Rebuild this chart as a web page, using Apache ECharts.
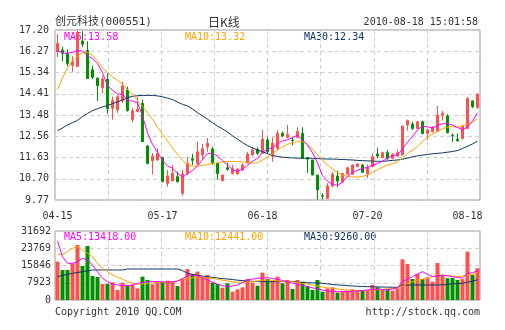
<!DOCTYPE html>
<html><head><meta charset="utf-8">
<script src="https://cdn.jsdelivr.net/npm/echarts@6/dist/echarts.min.js"></script>
<style>html,body{margin:0;padding:0;background:#fff}#c{width:505px;height:330px}</style>
</head><body><div id="c"></div>
<script>
const dates = ['04-15','04-16','04-19','04-20','04-21','04-22','04-23','04-26','04-27','04-28','04-29','04-30',
'05-04','05-05','05-06','05-07','05-10','05-11','05-12','05-13','05-14','05-17','05-18','05-19','05-20','05-21','05-24','05-25','05-26','05-27','05-28',
'06-01','06-02','06-03','06-04','06-07','06-08','06-09','06-10','06-11','06-17','06-18','06-21','06-22','06-23','06-24','06-25','06-28','06-29','06-30',
'07-01','07-02','07-05','07-06','07-07','07-08','07-09','07-12','07-13','07-14','07-15','07-16','07-19','07-20','07-21','07-22','07-23','07-26','07-27','07-28','07-29','07-30',
'08-02','08-03','08-04','08-05','08-06','08-09','08-10','08-11','08-12','08-13','08-16','08-17','08-18'];
const opens = [16.25,16.32,16.18,15.66,15.60,16.72,16.30,15.46,15.10,14.68,15.05,13.78,13.72,14.10,14.58,13.28,13.64,13.99,12.13,11.49,11.52,11.62,10.50,10.62,10.79,10.06,10.94,11.57,11.37,11.74,12.10,12.00,11.37,10.62,11.18,10.93,10.91,11.08,11.40,11.74,11.98,11.81,12.39,11.69,12.03,12.68,12.51,12.39,12.51,12.68,11.63,11.52,10.86,9.96,9.84,10.38,10.82,10.57,10.90,10.90,11.23,11.30,10.92,11.23,11.78,11.63,11.84,11.59,11.69,11.74,13.05,13.09,12.90,13.19,12.68,12.76,12.78,13.47,13.44,12.60,12.43,12.46,12.90,14.10,13.82];
const closes = [16.62,16.18,15.74,15.83,17.10,16.58,15.08,15.14,14.77,15.06,13.77,14.12,14.28,14.75,13.68,13.67,13.74,12.32,11.37,11.69,11.80,10.57,10.82,10.94,10.57,10.91,11.37,11.51,11.88,12.01,12.25,11.40,10.93,10.86,11.11,11.15,11.12,11.30,11.78,11.96,11.81,12.44,11.88,12.25,12.68,12.57,12.64,12.37,12.76,11.59,11.55,10.86,10.21,9.94,10.38,10.90,10.60,10.93,11.18,11.30,11.34,10.98,11.20,11.66,11.69,11.84,11.59,11.78,11.84,13.00,13.24,12.90,13.19,12.68,12.83,12.95,13.48,13.56,12.71,12.57,12.36,13.00,14.21,13.85,14.40];
const lows = [16.02,15.83,15.62,15.38,15.58,16.45,15.06,15.05,14.10,14.43,13.54,13.28,13.56,14.00,13.63,13.18,13.60,12.30,11.33,10.88,11.48,10.55,10.35,10.57,10.53,9.96,10.86,11.30,11.30,11.52,11.88,11.30,10.67,10.57,11.05,10.90,10.88,11.05,11.37,11.70,11.74,11.81,11.78,11.45,11.95,12.51,12.46,12.17,12.46,11.59,10.95,10.86,9.78,9.80,9.84,10.32,10.32,10.50,10.88,10.88,11.20,10.95,10.72,11.20,11.60,11.58,11.52,11.55,11.66,11.72,12.80,12.83,12.88,12.64,12.39,12.72,12.76,13.25,12.68,12.30,12.32,12.42,12.86,13.78,13.74];
const highs = [17.02,16.47,16.35,16.05,17.20,17.15,16.70,15.65,15.12,15.17,15.30,14.29,14.36,14.94,14.72,13.78,14.29,14.15,12.18,11.82,12.03,11.66,11.08,11.30,11.01,11.08,11.66,11.78,12.32,12.22,12.48,12.10,11.37,10.86,11.40,11.30,11.15,11.37,11.88,12.10,12.07,12.83,12.51,12.51,12.83,12.76,13.06,12.54,12.94,12.95,11.63,11.52,10.86,10.07,10.50,11.00,11.05,10.95,11.22,11.33,11.38,11.33,11.33,11.80,12.06,11.88,11.95,11.80,11.95,13.02,13.28,13.19,13.22,13.24,12.86,13.00,13.88,13.66,13.52,12.68,12.68,13.04,14.26,14.12,14.43];
const ma5 = [16.30,16.20,16.18,16.22,16.29,16.29,16.07,15.95,15.73,15.33,14.76,14.57,14.40,14.40,14.12,14.10,14.02,13.45,12.70,12.20,11.85,11.50,11.25,11.16,10.94,10.76,10.92,11.06,11.25,11.54,11.80,11.81,11.69,11.49,11.31,11.09,11.03,11.11,11.29,11.46,11.59,11.86,11.97,12.07,12.21,12.36,12.40,12.50,12.60,12.39,12.18,11.83,11.39,10.83,10.59,10.46,10.41,10.55,10.80,10.98,11.07,11.15,11.20,11.30,11.37,11.47,11.60,11.71,11.75,12.01,12.29,12.55,12.83,13.00,12.97,12.91,13.03,13.10,13.11,13.05,12.94,12.84,12.97,13.20,13.58];
const ma10 = [14.60,15.10,15.55,15.85,16.05,16.22,16.22,16.10,15.85,15.55,15.35,15.15,15.00,14.85,14.60,14.40,14.12,13.85,13.60,13.30,12.95,12.65,12.35,12.05,11.75,11.50,11.32,11.25,11.24,11.28,11.32,11.36,11.40,11.43,11.45,11.45,11.45,11.43,11.40,11.38,11.40,11.52,11.65,11.80,11.95,12.10,12.20,12.28,12.32,12.32,12.20,12.00,11.75,11.50,11.30,11.12,10.95,10.86,10.80,10.78,10.77,10.80,10.86,10.98,11.10,11.20,11.30,11.36,11.44,11.60,11.80,11.95,12.10,12.32,12.52,12.65,12.76,12.88,12.96,12.98,12.95,13.00,13.09,13.18,13.32];
const ma30 = [12.80,12.92,13.05,13.15,13.25,13.42,13.55,13.68,13.76,13.84,13.90,13.98,14.06,14.14,14.24,14.30,14.33,14.34,14.34,14.34,14.32,14.28,14.22,14.16,14.05,13.95,13.88,13.75,13.58,13.45,13.30,13.15,13.00,12.88,12.74,12.58,12.42,12.28,12.15,12.05,11.95,11.88,11.80,11.72,11.67,11.64,11.62,11.61,11.60,11.60,11.60,11.59,11.58,11.57,11.56,11.56,11.55,11.54,11.53,11.52,11.50,11.49,11.48,11.47,11.46,11.46,11.48,11.50,11.52,11.55,11.60,11.66,11.70,11.73,11.76,11.79,11.81,11.83,11.86,11.89,11.93,12.02,12.12,12.22,12.34];
const volumes = [17600,13780,13780,16840,25260,15620,24800,11020,10560,7350,7350,8110,4590,7960,6890,6890,5360,10720,9190,7200,8420,8420,8880,8730,6430,9950,14240,11940,13020,10720,11480,7960,7350,5660,7660,3830,4900,5820,9650,7960,6580,12560,9650,8730,10720,7660,9190,5050,9190,8420,6430,4590,9190,3830,5360,5820,3370,4290,4290,4900,4590,4290,4290,6890,5820,4590,4900,4290,5360,18690,16530,9650,11940,9650,10410,8420,17000,11500,10000,10100,9200,9600,22200,11500,14600];
const volMa5 = [27000,19900,16840,16840,17600,19140,18370,16070,13020,9950,8420,7200,6890,6700,6580,6900,7660,8000,8420,8420,8420,8300,8110,8400,8730,9650,11480,11300,11180,10200,9190,8200,7200,6600,6120,6500,6890,8000,9190,9600,9950,10100,10260,9900,9490,9000,8420,7800,7200,6700,6120,5600,5050,4600,4140,3950,3830,3830,3830,4000,4140,4350,4590,4800,5050,4800,4590,5100,5660,8420,9500,10720,12000,13020,11800,10720,11100,11480,11100,10720,10300,10080,12220,12520,13418];
const volMa10 = [20980,20980,22200,23730,24490,22970,21440,19900,16840,14540,13020,11480,10500,9500,8500,7800,7200,7400,7660,7900,8110,8110,8110,8110,8700,9300,9650,10200,10600,10500,10200,9950,9500,9100,8730,8400,8110,8200,8300,8420,8700,9000,9190,9000,8730,8600,8500,8420,8000,7600,7200,6900,6430,6000,5700,5360,5100,4800,4590,4400,4290,4350,4450,4590,4800,4950,5050,5200,5360,6500,7660,8400,9190,9600,9950,10700,11480,11300,11180,11000,10720,11100,11480,11900,12441];
const volMa30 = [10720,11300,11800,12250,12650,13020,13400,13780,13780,13780,13780,13780,13780,13780,14240,14240,14240,14240,14240,14240,14240,14240,14240,14240,14240,13500,12250,11800,11300,11000,10720,10400,10100,9800,9650,9400,9100,8900,8730,8600,8500,8450,8420,8420,8420,8420,8420,8420,8200,8000,7960,7900,7800,7700,7400,7100,6900,6800,6600,6450,6300,6200,6120,6050,6000,5950,5900,5850,5820,6890,6890,6890,6890,6890,6890,6890,6890,7000,7200,7400,7550,7660,8200,8700,9260];
const priceTicks = ['9.77','10.70','11.63','12.56','13.48','14.41','15.34','16.27','17.20'];
const volTicks = ['0','7923','15846','23769','31692'];
const xTickIdx = [0,21,41,62,82];
const xTickText = ['04-15','05-17','06-18','07-20','08-18'];

const RED = '#ff5050', GREEN = '#009000';
const C5 = '#ff00ff', C10 = '#ffa500', C30 = '#0d3466';
const MONO = '"DejaVu Sans Mono", monospace';
const TXT = '#333';
const dash = {show:true, lineStyle:{color:'#d0d0d0', type:[4,3], width:1}};
const last = a => a[a.length-1];

const chart = echarts.init(document.getElementById('c'), null, {renderer:'canvas'});
const G = [{left:55, top:30, width:425, height:170}, {left:55, top:231, width:425, height:69}];
const txt = (text, x, y, color, align, font) => ({type:'text', x, y, z:0, style:{text, fill:color, font: font || ('10px ' + MONO), align: align||'left', verticalAlign:'middle'}});

chart.setOption({
  animation:false,
  backgroundColor:'#fff',
  grid: G.map(g => Object.assign({show:true, borderColor:'#999', borderWidth:1, backgroundColor:'transparent'}, g)),
  xAxis: [
    {type:'category', gridIndex:0, data:dates, boundaryGap:true, position:'bottom',
     axisLine:{show:false}, axisTick:{show:false}, splitLine:{show:false},
     axisLabel:{interval:(i)=>xTickIdx.includes(i), formatter:(v,i)=>xTickText[xTickIdx.indexOf(i)], fontFamily:'DejaVu Sans Mono', fontSize:10, color:TXT, margin:11}},
    {type:'value', gridIndex:0, min:0, max:8, interval:1, position:'top', axisLine:{show:false}, axisTick:{show:false}, axisLabel:{show:false}, splitLine:dash},
    {type:'category', gridIndex:1, data:dates, boundaryGap:true, position:'bottom', axisLine:{show:false}, axisTick:{show:false}, axisLabel:{show:false}, splitLine:{show:false}},
    {type:'value', gridIndex:1, min:0, max:8, interval:1, position:'top', axisLine:{show:false}, axisTick:{show:false}, axisLabel:{show:false}, splitLine:dash}
  ],
  yAxis: [
    {type:'value', gridIndex:0, min:9.77, max:17.20, position:'right', show:false},
    {type:'value', gridIndex:0, min:0, max:8, interval:1, position:'left', axisLine:{show:false}, axisTick:{show:false}, splitLine:dash,
     axisLabel:{formatter:v=>priceTicks[Math.round(v)], fontFamily:'DejaVu Sans Mono', fontSize:10, color:TXT, margin:6}},
    {type:'value', gridIndex:1, min:0, max:31692, position:'right', show:false},
    {type:'value', gridIndex:1, min:0, max:4, interval:1, position:'left', axisLine:{show:false}, axisTick:{show:false}, splitLine:dash,
     axisLabel:{formatter:v=>volTicks[Math.round(v)], fontFamily:'DejaVu Sans Mono', fontSize:10, color:TXT, margin:4}}
  ],
  graphic: [
    txt('创元科技(000551)', 55, 22, TXT, 'left', '11px "DejaVu Sans Mono", "Noto Sans CJK SC"'),
    txt('日K线', 208, 22, TXT, 'left', '12px "Noto Sans CJK SC"'),
    txt('2010-08-18 15:01:58', 478, 22, TXT, 'right'),
    txt('MA5:' + last(ma5).toFixed(2), 64, 37, C5),
    txt('MA10:' + last(ma10).toFixed(2), 185, 37, C10),
    txt('MA30:' + last(ma30).toFixed(2), 304, 37, C30),
    txt('MA5:' + last(volMa5).toFixed(2), 64, 237, C5),
    txt('MA10:' + last(volMa10).toFixed(2), 185, 237, C10),
    txt('MA30:' + last(volMa30).toFixed(2), 304, 237, C30),
    txt('Copyright 2010 QQ.COM', 55, 312, TXT),
    txt('http://stock.qq.com', 480, 312, TXT, 'right')
  ],
  series: [
    {type:'candlestick', xAxisIndex:0, yAxisIndex:0, z:3, barWidth:3,
     data: dates.map((d,i)=>[opens[i], closes[i], lows[i], highs[i]]),
     itemStyle:{color:RED, color0:GREEN, borderColor:RED, borderColor0:GREEN, borderWidth:1}},
    {type:'line', xAxisIndex:0, yAxisIndex:0, z:4, data:ma30, showSymbol:false, lineStyle:{color:C30, width:1}},
    {type:'line', xAxisIndex:0, yAxisIndex:0, z:4, data:ma10, showSymbol:false, lineStyle:{color:C10, width:1}},
    {type:'line', xAxisIndex:0, yAxisIndex:0, z:4, data:ma5, showSymbol:false, lineStyle:{color:C5, width:1}},
    {type:'bar', xAxisIndex:2, yAxisIndex:2, z:3, barWidth:4,
     data: volumes.map((v,i)=>({value:v, itemStyle:{color: closes[i] >= opens[i] ? RED : GREEN}}))},
    {type:'line', xAxisIndex:2, yAxisIndex:2, z:4, data:volMa30, showSymbol:false, lineStyle:{color:C30, width:1}},
    {type:'line', xAxisIndex:2, yAxisIndex:2, z:4, data:volMa10, showSymbol:false, lineStyle:{color:C10, width:1}},
    {type:'line', xAxisIndex:2, yAxisIndex:2, z:4, data:volMa5, showSymbol:false, lineStyle:{color:C5, width:1}}
  ]
});
</script></body></html>
